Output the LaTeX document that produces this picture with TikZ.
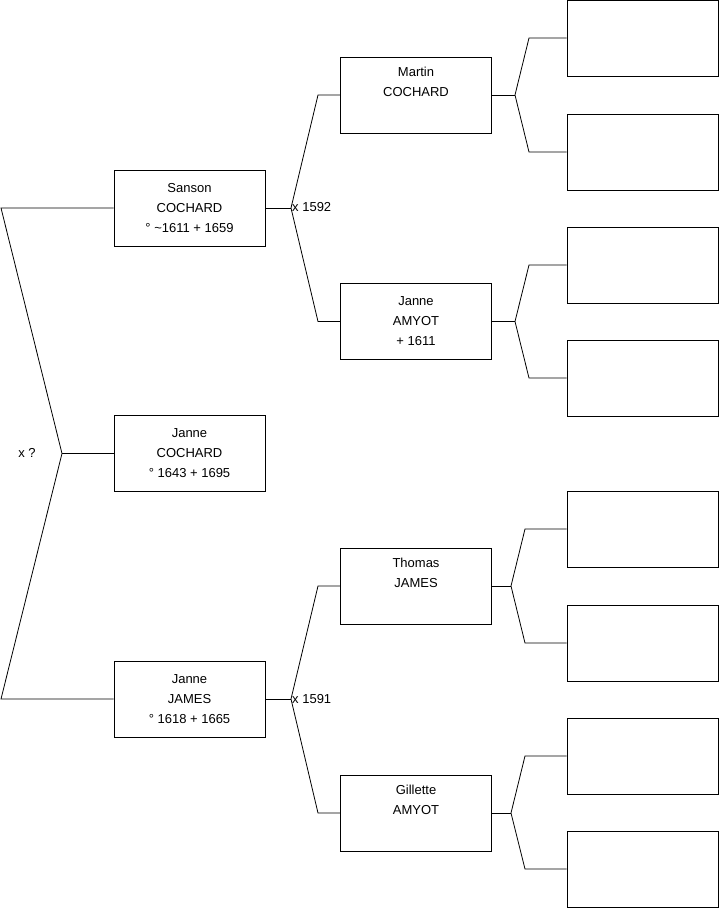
\documentclass[tikz,border=0pt]{standalone}
\usepackage{fontspec}
\setmainfont{Liberation Sans}
\begin{document}
\begin{tikzpicture}[x=1pt,y=-1pt,
  person/.style={draw=black, line width=0.8pt, rectangle, minimum width=151pt, minimum height=76pt,
    inner sep=0pt, align=center, font=\fontsize{13}{20}\selectfont},
  blank/.style={draw=black, line width=0.8pt, rectangle, minimum width=151pt, minimum height=76pt, inner sep=0pt},
  link/.style={draw=black, line width=0.8pt},
  lbl/.style={font=\fontsize{13}{15}\selectfont, inner sep=0pt}]
\useasboundingbox (0,0) rectangle (719,908);
% generation 1
\node[person] (S) at (189.5,208) {Sanson\\COCHARD\\° \textasciitilde1611 + 1659};
\node[person] (JC) at (189.5,453.5) {Janne\\COCHARD\\° 1643 + 1695};
\node[person] (JJ) at (189.5,699) {Janne\\JAMES\\° 1618 + 1665};
% generation 2
\node[person] (M) at (416,95) {Martin\\COCHARD\\\strut};
\node[person] (A) at (416,321.5) {Janne\\AMYOT\\+ 1611};
\node[person] (T) at (416,586) {Thomas\\JAMES\\\strut};
\node[person] (G) at (416,813) {Gillette\\AMYOT\\\strut};
% generation 3 (empty)
\foreach \n/\y in {e1/38,e2/152,e3/265,e4/378,e5/529,e6/643,e7/756,e8/869}
  \node[blank] (\n) at (642.5,\y) {};
% left fork
\coordinate (L1) at (1,208);
\coordinate (LF) at (62,453.5);
\coordinate (L2) at (1,699);
\draw[link] (S.west) -- (L1) -- (LF) -- (L2) -- (JJ.west);
\draw[link] (LF) -- (JC.west);
\node[lbl] (lq) at (27,453) {x ?};
% Sanson fork
\coordinate (SF) at (291,208);
\coordinate (s1) at (318,95);
\coordinate (s2) at (318,321.5);
\draw[link] (S.east) -- (SF);
\draw[link] (M.west) -- (s1) -- (SF) -- (s2) -- (A.west);
\node[lbl, anchor=west] (l1592) at (292,207) {x 1592};
% Janne JAMES fork
\coordinate (JF) at (291,699);
\coordinate (j1) at (318,586);
\coordinate (j2) at (318,813);
\draw[link] (JJ.east) -- (JF);
\draw[link] (T.west) -- (j1) -- (JF) -- (j2) -- (G.west);
\node[lbl, anchor=west] (l1591) at (292,699) {x 1591};
% right forks
\coordinate (MF) at (515,95);
\coordinate (m1) at (529,38);
\coordinate (m2) at (529,152);
\draw[link] (M.east) -- (MF);
\draw[link] (e1.west) -- (m1) -- (MF) -- (m2) -- (e2.west);
\coordinate (AF) at (515,321.5);
\coordinate (a1) at (529,265);
\coordinate (a2) at (529,378);
\draw[link] (A.east) -- (AF);
\draw[link] (e3.west) -- (a1) -- (AF) -- (a2) -- (e4.west);
\coordinate (TF) at (511,586);
\coordinate (t1) at (525,529);
\coordinate (t2) at (525,643);
\draw[link] (T.east) -- (TF);
\draw[link] (e5.west) -- (t1) -- (TF) -- (t2) -- (e6.west);
\coordinate (GF) at (511,813);
\coordinate (g1) at (525,756);
\coordinate (g2) at (525,869);
\draw[link] (G.east) -- (GF);
\draw[link] (e7.west) -- (g1) -- (GF) -- (g2) -- (e8.west);
\end{tikzpicture}
\end{document}
